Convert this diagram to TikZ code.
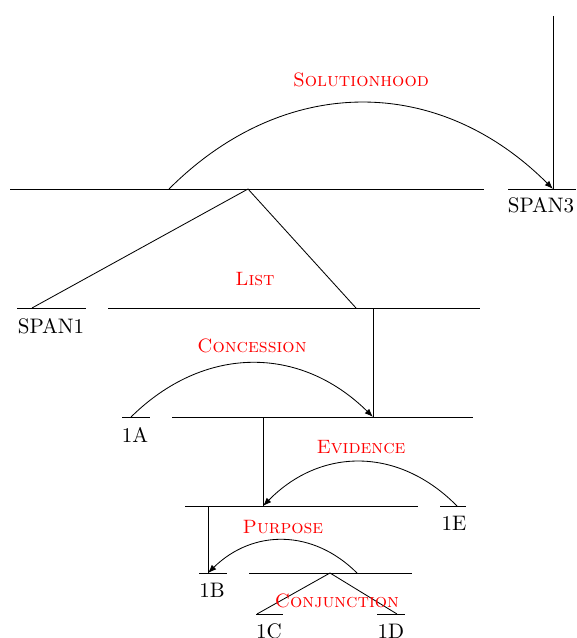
\documentclass[tikz,border=0pt]{standalone}
\usetikzlibrary{arrows.meta}
\begin{document}
\begin{tikzpicture}[x=0.476pt,y=-0.476pt,
  ln/.style={line width=0.4pt},
  arc/.style={line width=0.4pt,-{Latex[length=4pt,width=3pt]}},
  rel/.style={font=\fontsize{9.2}{11}\selectfont\scshape, text=red, inner sep=0pt},
  lab/.style={inner sep=0pt}]
\useasboundingbox (0,0) rectangle (576,638);
% coordinates
\coordinate (t0) at (10,189);   \coordinate (t1) at (484,189);
\coordinate (s3a) at (508,189); \coordinate (s3b) at (576,189);
\coordinate (s3top) at (553,16); \coordinate (s3m) at (553,189);
\coordinate (ap1) at (248,189);
\coordinate (s1a) at (17,308);  \coordinate (s1b) at (86,308); \coordinate (s1m) at (32,308);
\coordinate (l2a) at (108,308); \coordinate (l2b) at (480,308); \coordinate (l2m) at (356,308);
\coordinate (v2a) at (373,308); \coordinate (v2b) at (373,417);
\coordinate (aAa) at (122,417); \coordinate (aAb) at (150,417);
\coordinate (l3a) at (172,417); \coordinate (l3b) at (473,417);
\coordinate (v3a) at (263,417); \coordinate (v3b) at (263,506);
\coordinate (aEa) at (440,506); \coordinate (aEb) at (466,506);
\coordinate (l4a) at (185,506); \coordinate (l4b) at (418,506);
\coordinate (v4a) at (208,506); \coordinate (v4b) at (208,573);
\coordinate (aBa) at (199,573); \coordinate (aBb) at (227,573);
\coordinate (l5a) at (249,573); \coordinate (l5b) at (412,573);
\coordinate (ap5) at (330,573);
\coordinate (aCa) at (256,614); \coordinate (aCb) at (283,614); \coordinate (aCm) at (257,614);
\coordinate (aDa) at (377,614); \coordinate (aDb) at (405,614); \coordinate (aDm) at (397,614);
% arc ends
\coordinate (solA) at (169,189);
\coordinate (conA) at (131,417);
\coordinate (eviA) at (457,506);
\coordinate (purA) at (357,573);
% horizontal spans
\draw[ln] (t0) -- (t1);
\draw[ln] (s3a) -- (s3b);
\draw[ln] (s1a) -- (s1b);
\draw[ln] (l2a) -- (l2b);
\draw[ln] (aAa) -- (aAb);
\draw[ln] (l3a) -- (l3b);
\draw[ln] (aEa) -- (aEb);
\draw[ln] (l4a) -- (l4b);
\draw[ln] (aBa) -- (aBb);
\draw[ln] (l5a) -- (l5b);
\draw[ln] (aCa) -- (aCb);
\draw[ln] (aDa) -- (aDb);
% verticals
\draw[ln] (s3top) -- (s3m);
\draw[ln] (v2a) -- (v2b);
\draw[ln] (v3a) -- (v3b);
\draw[ln] (v4a) -- (v4b);
% multinuclear
\draw[ln] (s1m) -- (ap1) -- (l2m);
\draw[ln] (aCm) -- (ap5) -- (aDm);
% relation arcs
\draw[arc] (solA) .. controls (284,74) and (438,74) .. (s3m);
\draw[arc] (conA) .. controls (204,345) and (300,345) .. (v2b);
\draw[arc] (eviA) .. controls (399,447) and (321,447) .. (v3b);
\draw[arc] (purA) .. controls (313,529) and (253,529) .. (v4b);
% relation labels
\node[rel] (rsol) at (361,80) {Solutionhood};
\node[rel] (rlist) at (255,279) {List};
\node[rel] (rcon) at (252,346) {Concession};
\node[rel] (revi) at (361,447) {Evidence};
\node[rel] (rpur) at (283,527) {Purpose};
\node[rel] (rcnj) at (337,601) {Conjunction};
% leaf labels
\node[lab] (nS3) at (541,205) {SPAN3};
\node[lab] (nS1) at (51,326) {SPAN1};
\node[lab] (n1A) at (135,435) {1A};
\node[lab] (n1E) at (454,523) {1E};
\node[lab] (n1B) at (212,590) {1B};
\node[lab] (n1C) at (269,631) {1C};
\node[lab] (n1D) at (391,631) {1D};
\end{tikzpicture}
\end{document}
